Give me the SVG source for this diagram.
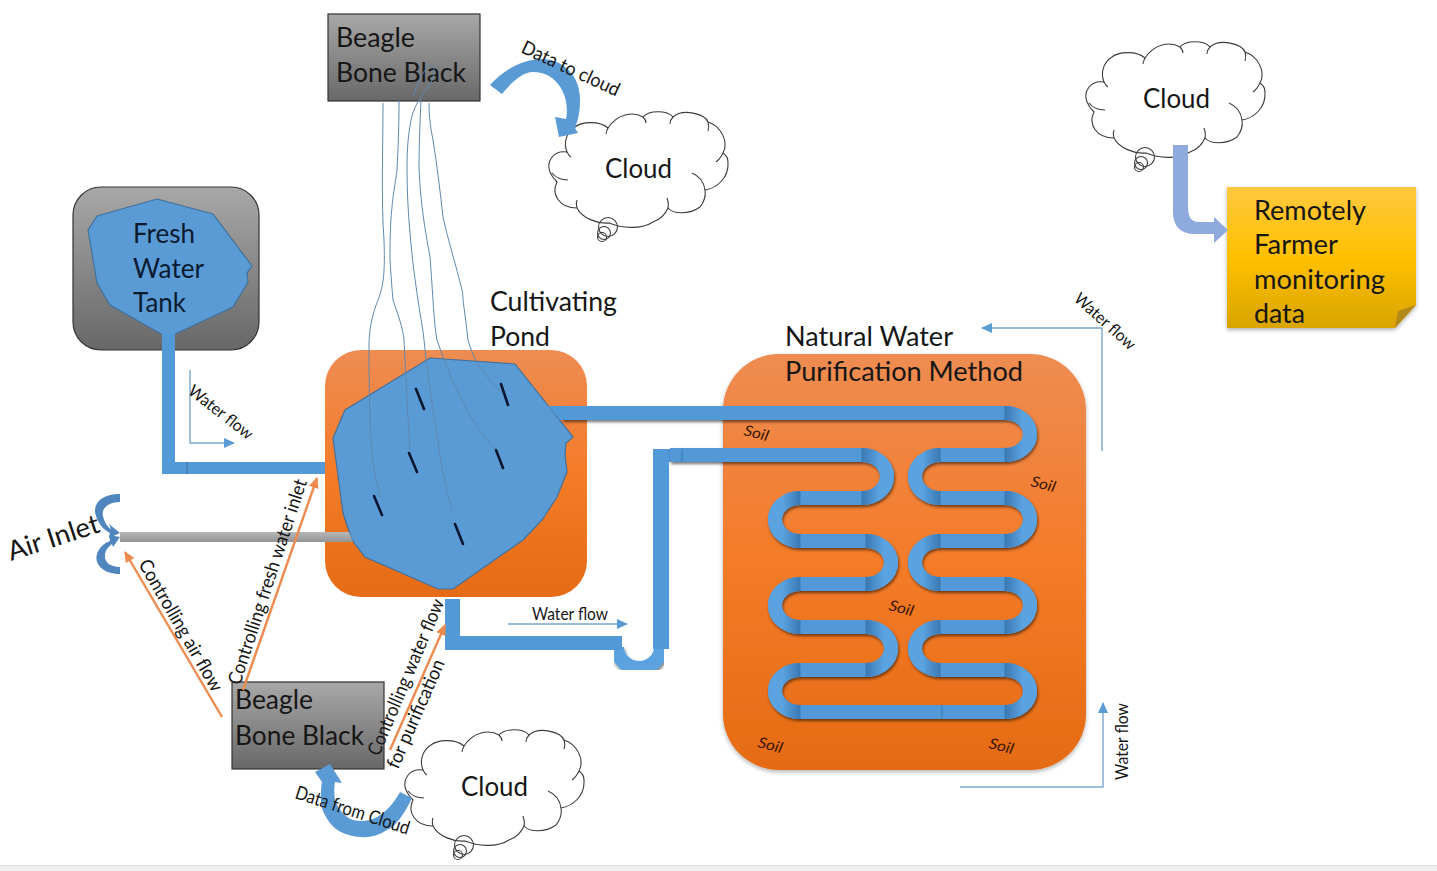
<svg xmlns="http://www.w3.org/2000/svg" width="1437" height="871" viewBox="0 0 1437 871">
<style>
text{font-family:Lato,"Open Sans","Liberation Sans",sans-serif;fill:#161616}
.big{font-size:27px}
.mid{font-size:19px}
.sm{font-size:16.5px}
.soil{font-size:15px;font-style:italic;fill:#3a1505}
.cloud{fill:#fff;stroke:#3c3c3c;stroke-width:1.1}
.stub{fill:none;stroke:#3c3c3c;stroke-width:1.1}
.gray{fill:url(#gGray);stroke:#333;stroke-width:1.2}
.water{fill:#5b9bd5;stroke:#41719c;stroke-width:1.2}
.sensor{stroke:#0b1730;stroke-width:2.6;stroke-linecap:round}
.wire{fill:none;stroke:#5f88b0;stroke-width:1}
.pipe{fill:#5299d8}
.tube{fill:none;stroke:#5299d8;stroke-width:14}
.bR{fill:none;stroke:url(#gBR);stroke-width:14}
.bL{fill:none;stroke:url(#gBL);stroke-width:14}
.ctl{fill:none;stroke:#ed8b4f;stroke-width:2.4;marker-end:url(#mO)}
.flow{fill:none;stroke:#7ba6d0;stroke-width:1.4;marker-end:url(#mB)}
</style>
<defs>
<linearGradient id="gGray" x1="0" y1="0" x2="0" y2="1"><stop offset="0" stop-color="#a8a8a8"/><stop offset="1" stop-color="#686868"/></linearGradient>
<linearGradient id="gOrange" x1="0" y1="0" x2="0" y2="1"><stop offset="0" stop-color="#ee8c52"/><stop offset=".5" stop-color="#f47b28"/><stop offset="1" stop-color="#e56b14"/></linearGradient>
<linearGradient id="gNote" x1="0" y1="0" x2="0" y2="1"><stop offset="0" stop-color="#ffc83f"/><stop offset=".5" stop-color="#ffc000"/><stop offset="1" stop-color="#d9a404"/></linearGradient>
<linearGradient id="gAir" x1="0" y1="0" x2="0" y2="1"><stop offset="0" stop-color="#b8b8b8"/><stop offset="1" stop-color="#949494"/></linearGradient>
<linearGradient id="gBR" x1="0" y1="0" x2="1" y2="0"><stop offset="0" stop-color="#3a79b4"/><stop offset=".7" stop-color="#5aa2e0"/></linearGradient>
<linearGradient id="gBL" x1="1" y1="0" x2="0" y2="0"><stop offset="0" stop-color="#3a79b4"/><stop offset=".7" stop-color="#5aa2e0"/></linearGradient>
<filter id="sh" x="-5%" y="-5%" width="110%" height="110%"><feDropShadow dx="1" dy="2" stdDeviation="1.6" flood-color="#000" flood-opacity=".55"/></filter>
<filter id="shS" x="-5%" y="-5%" width="110%" height="110%"><feDropShadow dx="0" dy="2" stdDeviation="2" flood-color="#000" flood-opacity=".3"/></filter>
<marker id="mO" markerUnits="userSpaceOnUse" markerWidth="12" markerHeight="12" refX="10" refY="5" orient="auto"><path d="M0,0L11,5L0,10Z" fill="#ed8b4f"/></marker>
<marker id="mB" markerUnits="userSpaceOnUse" markerWidth="12" markerHeight="12" refX="10" refY="5" orient="auto"><path d="M0,0L11,5L0,10Z" fill="#5b9bd5"/></marker>
<g id="cloudShape">
<path class="cloud" d="M18,40C4,38-3,50 1,60C3,65 5,67 8,70C2,82 10,96 28,96C33,106 48,112 60,111C72,116 92,118 104,110C110,108 116,103 119,96C124,102 140,103 151,95C155,90 157,84 156,78C168,76 180,66 179,50C179,46 177,43 174,41C180,30 172,14 159,10C156,2 134,-4 124,5C118,-2 100,-2 94,5C84,-1 68,2 59,16C50,8 32,10 26,15C18,20 14,30 18,40Z"/>
<path class="stub" d="M19,68C12,68 7,66 3,61M18,40C19,42 20,44 22,45M28,96C27,93 27,91 28,88M119,96C120,92 119,89 118,86M143,61C150,64 155,70 156,78M174,41C172,45 170,48 167,50M159,10C160,13 160,16 159,19M124,5C122,7 121,9 121,12M94,5C96,7 97,9 97,11M59,16C58,18 57,20 57,22"/>
<circle class="cloud" cx="59" cy="115" r="9.5" style="fill:none"/><circle class="cloud" cx="55" cy="121" r="6.5" style="fill:none"/><circle class="cloud" cx="53" cy="125" r="4.5" style="fill:none"/>
</g>
</defs>
<rect width="1437" height="871" fill="#fff"/>
<rect y="865" width="1437" height="6" fill="#f0f0f0"/><path d="M0,865.5H1437" stroke="#dadada"/>

<g id="bbb-top"><rect class="gray" x="328" y="14" width="152" height="87"/>
<text class="big" x="336" y="47" textLength="79" lengthAdjust="spacingAndGlyphs">Beagle</text>
<text class="big" x="336" y="82" textLength="130" lengthAdjust="spacingAndGlyphs">Bone Black</text></g>

<g id="cloud-top"><use href="#cloudShape" transform="translate(549,112)"/>
<text class="big" x="605" y="178" textLength="67" lengthAdjust="spacingAndGlyphs">Cloud</text></g>

<g id="cloud-remote"><use href="#cloudShape" transform="translate(1086,42)"/>
<text class="big" x="1143" y="108" textLength="67" lengthAdjust="spacingAndGlyphs">Cloud</text></g>

<g id="cloud-bottom"><use href="#cloudShape" transform="translate(405,730)"/>
<text class="big" x="461" y="796" textLength="67" lengthAdjust="spacingAndGlyphs">Cloud</text></g>

<g id="tank"><rect class="gray" x="73" y="187" width="186" height="163" rx="28"/>
<path class="water" d="M157,199L213,214L252,266L247,273L248,282L233,307L173,335L163,335L110,305L97,283L88,230L97,216Z"/>
<text class="big" x="133" y="243" textLength="62" lengthAdjust="spacingAndGlyphs" style="fill:#0a1a30">Fresh</text>
<text class="big" x="133" y="278" textLength="71" lengthAdjust="spacingAndGlyphs" style="fill:#0a1a30">Water</text>
<text class="big" x="133" y="312" textLength="53" lengthAdjust="spacingAndGlyphs" style="fill:#0a1a30">Tank</text></g>

<g id="pond"><rect x="325" y="350" width="262" height="247" rx="36" fill="url(#gOrange)"/>
<text class="big" x="490" y="311" textLength="127" lengthAdjust="spacingAndGlyphs">Cultivating</text>
<text class="big" x="490" y="346" textLength="60" lengthAdjust="spacingAndGlyphs">Pond</text>
<path class="water" d="M430,358L515,364L573,437L566,443L565,455L567,472L557,497L542,520L523,540L453,589L438,589L365,557L352,540L343,513L333,438L345,410Z"/>
<g id="sensors"><path class="sensor" d="M416,389L424,409M501,384L508,405M409,453L417,472M496,450L503,468M374,496L382,515M455,524L463,544"/></g></g>

<g id="purification"><rect x="723" y="354" width="363" height="416" rx="56" fill="url(#gOrange)" filter="url(#shS)"/>
<text class="big" x="785" y="346" textLength="168" lengthAdjust="spacingAndGlyphs">Natural Water</text>
<text class="big" x="785" y="381" textLength="238" lengthAdjust="spacingAndGlyphs">Purification Method</text>
<text class="soil" transform="translate(743,435) rotate(14)" textLength="25" lengthAdjust="spacingAndGlyphs">Soil</text>
<text class="soil" transform="translate(1030,486) rotate(14)" textLength="25" lengthAdjust="spacingAndGlyphs">Soil</text>
<text class="soil" transform="translate(888,610) rotate(14)" textLength="25" lengthAdjust="spacingAndGlyphs">Soil</text>
<text class="soil" transform="translate(757,747) rotate(14)" textLength="25" lengthAdjust="spacingAndGlyphs">Soil</text>
<text class="soil" transform="translate(988,748) rotate(14)" textLength="25" lengthAdjust="spacingAndGlyphs">Soil</text></g>

<g id="remote-note"><path d="M1227,187H1416V305L1395,328H1227Z" fill="url(#gNote)" filter="url(#shS)"/>
<path d="M1395,328L1398,311L1416,305Z" fill="#b38a1a"/>
<text class="big" x="1254" y="220" textLength="112" lengthAdjust="spacingAndGlyphs">Remotely</text>
<text class="big" x="1254" y="254" textLength="84" lengthAdjust="spacingAndGlyphs">Farmer</text>
<text class="big" x="1254" y="289" textLength="131" lengthAdjust="spacingAndGlyphs">monitoring</text>
<text class="big" x="1254" y="323" textLength="51" lengthAdjust="spacingAndGlyphs">data</text></g>

<g id="bbb-bottom"><rect class="gray" x="232" y="682" width="152" height="87"/>
<text class="big" x="235" y="709" textLength="78" lengthAdjust="spacingAndGlyphs">Beagle</text>
<text class="big" x="235" y="745" textLength="129" lengthAdjust="spacingAndGlyphs">Bone Black</text></g>

<g id="air-inlet"><text class="big" transform="translate(11,561) rotate(-18)" textLength="95" lengthAdjust="spacingAndGlyphs">Air Inlet</text>
<path d="M120,494C100,494 92,505 96,516C99,525 104,530 110,533L109,538L120,533L109,524L111,529C107,527 104,521 103,516C101,508 109,502 120,502Z" fill="#4f86bd"/>
<path d="M120,574C103,574 94,564 97,554C99,548 104,543 110,541L109,535L120,537L113,547L112,544C108,547 105,551 105,555C104,562 110,567 120,567Z" fill="#4f86bd"/></g>

<g id="connectors">
<path class="pipe" d="M162,334H175V462H325V474H162Z"/>
<path d="M187,462V474" stroke="#41719c" fill="none"/>
<path d="M120,532H349L353,542H120Z" fill="url(#gAir)"/>
<g filter="url(#sh)">
<path class="tube" d="M617,647A22,21 0 0 0 661,647" style="stroke:#5aa2e0"/>
</g>
<path class="pipe" d="M445,599H460V636H622V650H445Z"/>
<path class="pipe" d="M653,449H682V462H669V649H653Z"/>
<path class="tube" filter="url(#sh)" d="M562,413H1005A25,21 0 0 1 1005,455H940A25,21.5 0 0 0 940,498H1005A25,21.5 0 0 1 1005,541H940A25,21.5 0 0 0 940,584H1005A25,21.5 0 0 1 1005,627H940A25,21.5 0 0 0 940,670H1005A25,21 0 0 1 1005,712H800A25,21 0 0 1 800,670H866A25,21.5 0 0 0 866,627H800A25,21.5 0 0 1 800,584H866A25,21.5 0 0 0 866,541H800A25,21.5 0 0 1 800,498H862A25,21.5 0 0 0 862,455H670"/>
<path class="pipe" d="M548,406H570V420H560Z"/>
<path class="bR" d="M1005,413A25,21 0 0 1 1005,455"/>
<path class="bR" d="M1005,498A25,21.5 0 0 1 1005,541"/>
<path class="bR" d="M1005,584A25,21.5 0 0 1 1005,627"/>
<path class="bR" d="M1005,670A25,21 0 0 1 1005,712"/>
<path class="bR" d="M866,541A25,21.5 0 0 1 866,584"/>
<path class="bR" d="M866,627A25,21.5 0 0 1 866,670"/>
<path class="bR" d="M862,455A25,21.5 0 0 1 862,498"/>
<path class="bL" d="M940,455A25,21.5 0 0 0 940,498"/>
<path class="bL" d="M940,541A25,21.5 0 0 0 940,584"/>
<path class="bL" d="M940,627A25,21.5 0 0 0 940,670"/>
<path class="bL" d="M800,670A25,21 0 0 0 800,712"/>
<path class="bL" d="M800,584A25,21.5 0 0 0 800,627"/>
<path class="bL" d="M800,498A25,21.5 0 0 0 800,541"/>
<path d="M682,449V462M1005,406V420M1005,448V462M1005,491V505M1005,534V548M1005,577V591M1005,620V634M1005,663V677M1005,705V719M940,448V462M940,491V505M940,534V548M940,577V591M940,620V634M940,663V677M942,705V719M800,491V505M800,534V548M800,577V591M800,620V634M800,663V677M800,705V719M862,448V462M862,491V505M866,534V548M866,577V591M866,620V634M866,663V677" stroke="#3b78ad" fill="none"/>

<path class="wire" d="M383,103C383,150 381,200 384,240C385,270 384,285 378,300C372,315 369,330 369,345C369,400 370,430 372,455C374,475 378,485 380,497"/>
<path class="wire" d="M399,100C399,130 398,150 397,170C395,185 393,195 392,207C390,225 390,245 390,260C391,275 392,290 393,300C398,315 403,328 404,340C406,380 408,420 410,450"/>
<path class="wire" d="M413,97C417,85 422,72 428,67C433,63 436,68 433,78C428,90 415,100 411,120C408,135 407,150 407,167C407,190 408,212 410,233C412,258 415,280 418,300C420,315 423,328 424,340C428,380 436,430 443,473C446,488 449,498 452,510"/>
<path class="wire" d="M421,100C420,122 419,145 419,167C420,200 425,230 430,257C431,270 432,285 433,300C434,315 435,330 437,340C443,358 450,375 457,390C463,403 470,415 477,427C483,435 489,442 495,450"/>
<path class="wire" d="M429,103C429,118 431,130 433,140C437,165 440,190 443,217C448,240 456,265 462,290C463,295 463,297 463,300C465,315 467,330 468,340C471,350 474,357 477,363C485,375 494,385 502,393"/>

<path class="ctl" d="M222,717L125,552"/>
<path class="ctl" d="M243,690L317,478"/>
<path class="ctl" d="M390,750L445,625"/>
<path class="flow" d="M190,370V443H234"/>
<path class="flow" d="M508,624H627"/>
<path class="flow" d="M1102,451V328H982"/>
<path class="flow" d="M960,787H1103V703"/>

<path d="M490,85C505,68 525,59 542,59C566,60 581,78 580,102C580,112 578,120 575,128L578,133L559,137L555,117L566,119C568,110 567,95 558,84C552,76 543,72 533,72C522,72 511,83 502,94Z" fill="#5b9bd5"/>
<path d="M400,792L412,798C404,815 395,827 387,830C378,836 369,838 360,837C347,836 336,831 330,823C324,815 320,806 321,797C321,791 321,786 322,782L315,772L330,764L342,783L335,782C334,788 334,794 335,800C338,809 345,817 353,820C361,822 370,821 377,817C386,812 394,803 400,792Z" fill="#5b9bd5"/>
<path d="M1173,145H1188V205C1188,218 1191,222 1200,222H1214V217L1228,230L1214,243V234H1195C1180,234 1173,226 1173,212Z" fill="#8faadc"/>

<text class="sm" transform="translate(187,393) rotate(38)" textLength="77" lengthAdjust="spacingAndGlyphs">Water flow</text>
<text class="sm" x="532" y="620" textLength="76" lengthAdjust="spacingAndGlyphs">Water flow</text>
<text class="sm" transform="translate(1073,300) rotate(42)" textLength="76" lengthAdjust="spacingAndGlyphs">Water flow</text>
<text class="sm" transform="translate(1128,780) rotate(-90)" textLength="77" lengthAdjust="spacingAndGlyphs">Water flow</text>
<text class="mid" transform="translate(520,52) rotate(25)" textLength="106" lengthAdjust="spacingAndGlyphs">Data to cloud</text>
<text class="mid" transform="translate(294,798) rotate(18)" textLength="119" lengthAdjust="spacingAndGlyphs">Data from Cloud</text>
<text class="mid" transform="translate(138,564) rotate(60)" textLength="149" lengthAdjust="spacingAndGlyphs">Controlling air flow</text>
<text class="mid" transform="translate(240,686) rotate(-71.8)" textLength="215" lengthAdjust="spacingAndGlyphs">Controlling fresh water inlet</text>
<text class="mid" transform="translate(379,757) rotate(-67)" textLength="168" lengthAdjust="spacingAndGlyphs">Controlling water flow</text>
<text class="mid" transform="translate(398,770) rotate(-66.3)" textLength="117" lengthAdjust="spacingAndGlyphs">for purification</text>
</g>
</svg>
